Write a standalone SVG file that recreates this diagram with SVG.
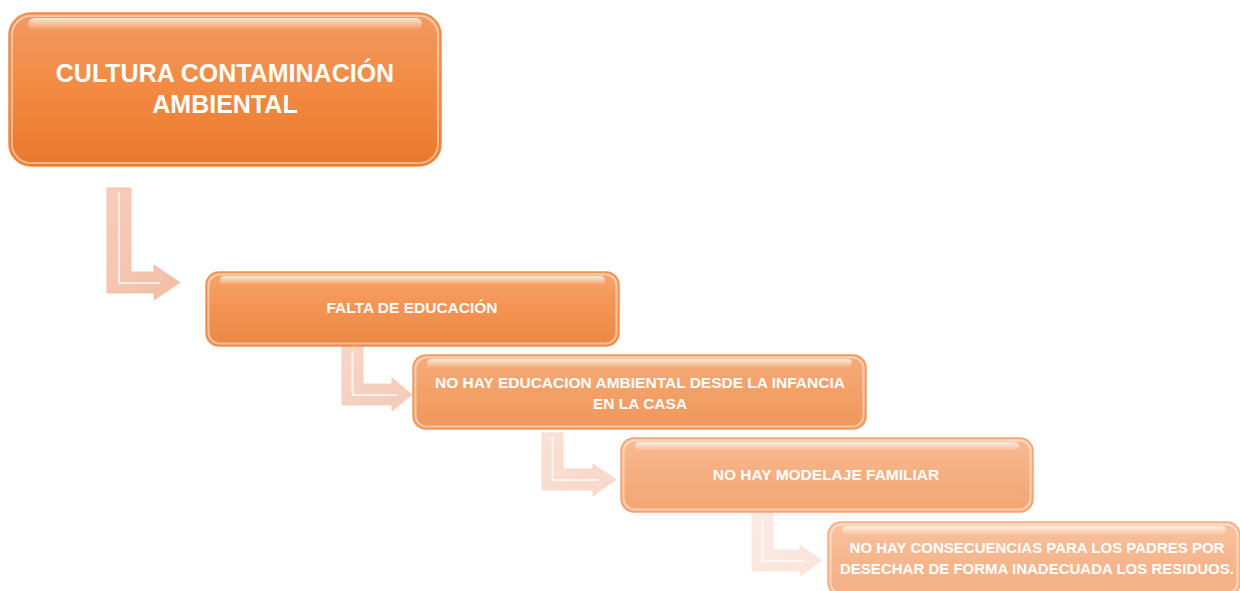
<svg xmlns="http://www.w3.org/2000/svg" width="1240" height="591" viewBox="0 0 1240 591">
<style>
.t{font-family:"Liberation Sans",Arial,sans-serif;font-weight:bold;fill:#ffffff;text-anchor:middle}
.edge{fill:none;stroke:#ffffff;stroke-opacity:0.45;stroke-width:2}
.shine{fill:url(#shine)}
.arr{stroke:#f5c3ad;stroke-width:1;stroke-linejoin:miter}
.bev{fill:none;stroke:#ffffff;stroke-opacity:0.7;stroke-width:2}
</style>
<defs>
<linearGradient id="g1" x1="0" y1="0" x2="0" y2="1"><stop offset="0" stop-color="#f19a62"/><stop offset="0.5" stop-color="#f28a42"/><stop offset="1" stop-color="#e9782c"/></linearGradient>
<linearGradient id="g2" x1="0" y1="0" x2="0" y2="1"><stop offset="0" stop-color="#f5a56c"/><stop offset="0.5" stop-color="#f39352"/><stop offset="1" stop-color="#ec8845"/></linearGradient>
<linearGradient id="g3" x1="0" y1="0" x2="0" y2="1"><stop offset="0" stop-color="#f6ad7a"/><stop offset="0.5" stop-color="#f3a068"/><stop offset="1" stop-color="#ef975c"/></linearGradient>
<linearGradient id="g4" x1="0" y1="0" x2="0" y2="1"><stop offset="0" stop-color="#f8bb92"/><stop offset="0.5" stop-color="#f5ae80"/><stop offset="1" stop-color="#f2a774"/></linearGradient>
<linearGradient id="g5" x1="0" y1="0" x2="0" y2="1"><stop offset="0" stop-color="#f9c39f"/><stop offset="0.5" stop-color="#f6b68d"/><stop offset="1" stop-color="#f4b086"/></linearGradient>
<linearGradient id="shine" x1="0" y1="0" x2="0" y2="1"><stop offset="0" stop-color="#ffffff" stop-opacity="0.75"/><stop offset="1" stop-color="#ffffff" stop-opacity="0"/></linearGradient>
<linearGradient id="ag" x1="0" y1="0" x2="1" y2="1"><stop offset="0" stop-color="#f7cdbb"/><stop offset="1" stop-color="#f3bda5"/></linearGradient>
</defs>

<g id="connectors">
<g>
<path class="arr" fill="url(#ag)" d="M107,188 H131 V272 H154 V265 L180,282.5 L154,300 V293 H107 Z"/>
<path class="bev" d="M119,192 V283 H160"/>
</g>
<g opacity="0.8">
<path class="arr" fill="url(#ag)" d="M342,347 H363 V384 H392 V378 L412,394.5 L392,411 V405 H342 Z"/>
<path class="bev" d="M352.5,351 V395 H397"/>
</g>
<g opacity="0.6">
<path class="arr" fill="url(#ag)" d="M542,433 H563 V469 H593 V464 L616,479.5 L593,496 V490 H542 Z"/>
<path class="bev" d="M552.5,437 V480 H598"/>
</g>
<g opacity="0.4">
<path class="arr" fill="url(#ag)" d="M752,513 H773 V550 H800 V545 L822,560.5 L800,576 V571 H752 Z"/>
<path class="bev" d="M762.5,517 V561 H805"/>
</g>
</g>

<g id="node1">
<rect x="9" y="13" width="432" height="153" rx="22" fill="url(#g1)" stroke="#ef8a48" stroke-width="1.5"/>
<rect x="12" y="16" width="426" height="147" rx="19" class="edge"/>
<rect x="28" y="18" width="394" height="12" rx="6" class="shine"/>
<text class="t" font-size="25" x="225" y="82">CULTURA CONTAMINACIÓN</text>
<text class="t" font-size="25" x="225" y="113">AMBIENTAL</text>
</g>

<g id="node2">
<rect x="206" y="272" width="413" height="74" rx="13" fill="url(#g2)" stroke="#ef9150" stroke-width="1.5"/>
<rect x="208.5" y="274.5" width="408" height="69" rx="11" class="edge"/>
<rect x="220" y="276" width="385" height="9" rx="4.5" class="shine"/>
<text class="t" font-size="15.5" x="412" y="313">FALTA DE EDUCACIÓN</text>
</g>

<g id="node3">
<rect x="413" y="355" width="453" height="74" rx="13" fill="url(#g3)" stroke="#f09a5e" stroke-width="1.5"/>
<rect x="415.5" y="357.5" width="448" height="69" rx="11" class="edge"/>
<rect x="427" y="359" width="425" height="9" rx="4.5" class="shine"/>
<text class="t" font-size="15.5" x="640" y="388">NO HAY EDUCACION AMBIENTAL DESDE LA INFANCIA</text>
<text class="t" font-size="15.5" x="640" y="409">EN LA CASA</text>
</g>

<g id="node4">
<rect x="621" y="438" width="412" height="74" rx="13" fill="url(#g4)" stroke="#f2a674" stroke-width="1.5"/>
<rect x="623.5" y="440.5" width="407" height="69" rx="11" class="edge"/>
<rect x="635" y="442" width="384" height="9" rx="4.5" class="shine"/>
<text class="t" font-size="15.5" x="826" y="480">NO HAY MODELAJE FAMILIAR</text>
</g>

<g id="node5">
<rect x="828" y="522" width="412" height="74" rx="13" fill="url(#g5)" stroke="#f4b086" stroke-width="1.5"/>
<rect x="830.5" y="524.5" width="407" height="69" rx="11" class="edge"/>
<rect x="842" y="526" width="384" height="9" rx="4.5" class="shine"/>
<text class="t" font-size="15" x="1037" y="553">NO HAY CONSECUENCIAS PARA LOS PADRES POR</text>
<text class="t" font-size="15" x="1037" y="574">DESECHAR DE FORMA INADECUADA LOS RESIDUOS.</text>
</g>
</svg>
